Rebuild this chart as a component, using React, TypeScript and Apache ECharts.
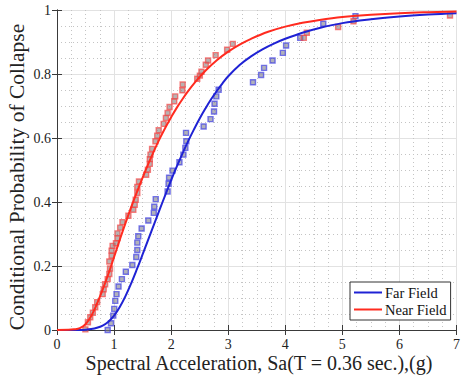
import React, { useEffect, useRef } from "react";
import * as echarts from "echarts";

// Empirical collapse fractions (square markers)
const farFieldX = [0.888,0.946,0.986,1.003,1.021,1.043,1.078,1.137,1.206,1.320,1.389,1.407,1.407,1.424,1.483,1.600,1.696,1.704,1.730,1.938,1.955,1.964,2.024,2.145,2.215,2.249,2.266,2.261,2.569,2.690,2.751,2.760,2.791,2.832,3.434,3.576,3.628,3.777,3.957,4.014,4.261,4.666,5.230];
const farFieldP = [0.000,0.021,0.045,0.066,0.091,0.112,0.136,0.159,0.182,0.203,0.228,0.250,0.273,0.293,0.317,0.342,0.366,0.385,0.409,0.433,0.457,0.476,0.498,0.524,0.548,0.569,0.590,0.616,0.636,0.659,0.683,0.707,0.730,0.751,0.774,0.797,0.819,0.842,0.866,0.889,0.913,0.957,0.981];

const nearFieldX = [0.497,0.542,0.583,0.628,0.670,0.704,0.801,0.818,0.843,0.888,0.917,0.929,0.917,0.957,0.957,0.974,1.033,1.061,1.061,1.107,1.147,1.251,1.337,1.362,1.379,1.407,1.407,1.436,1.562,1.592,1.626,1.626,1.638,1.666,1.725,1.756,1.782,1.869,1.908,1.938,1.972,2.054,2.071,2.197,2.202,2.457,2.503,2.531,2.607,2.647,2.780,2.981,3.080,4.325,4.377,4.926,5.195,6.886];
const nearFieldP = [0.002,0.024,0.040,0.054,0.071,0.087,0.112,0.127,0.143,0.159,0.175,0.192,0.214,0.232,0.248,0.263,0.271,0.287,0.302,0.320,0.337,0.357,0.376,0.391,0.407,0.428,0.447,0.464,0.485,0.501,0.519,0.534,0.548,0.566,0.590,0.607,0.624,0.644,0.663,0.678,0.697,0.715,0.730,0.749,0.767,0.785,0.795,0.807,0.829,0.842,0.859,0.876,0.894,0.913,0.929,0.947,0.965,0.983];

// Fitted fragility curves
const farCurveX = [0,0.3,0.4,0.5,0.6,0.7,0.8,0.9,1.0,1.1,1.2,1.3,1.4,1.5,1.6,1.7,1.8,1.9,2.0,2.1,2.2,2.3,2.4,2.5,2.6,2.7,2.8,2.9,3.0,3.2,3.4,3.6,3.8,4.0,4.3,4.6,5.0,5.5,6.0,6.5,7.0];
const farCurveP = [0,0,0.0002,0.001,0.003,0.007,0.014,0.026,0.045,0.072,0.106,0.146,0.190,0.236,0.283,0.330,0.377,0.423,0.468,0.511,0.552,0.591,0.627,0.661,0.692,0.721,0.747,0.771,0.793,0.828,0.855,0.877,0.895,0.910,0.929,0.944,0.959,0.971,0.980,0.986,0.990];

const nearCurveX = [0,0.2,0.3,0.4,0.5,0.6,0.7,0.8,0.9,1.0,1.1,1.2,1.3,1.4,1.5,1.6,1.7,1.8,1.9,2.0,2.1,2.2,2.3,2.4,2.6,2.8,3.0,3.2,3.4,3.7,4.0,4.3,4.6,5.0,5.5,6.0,6.5,7.0];
const nearCurveP = [0,0.0004,0.002,0.006,0.018,0.044,0.082,0.126,0.175,0.228,0.282,0.334,0.384,0.431,0.476,0.519,0.560,0.598,0.633,0.665,0.695,0.722,0.747,0.770,0.810,0.843,0.870,0.892,0.910,0.932,0.948,0.960,0.969,0.978,0.985,0.990,0.993,0.995];

const xTickLabels = ["0", "1", "2", "3", "4", "5", "6", "7"];
const yTickLabels = ["0", "0.2", "0.4", "0.6", "0.8", "1"];
const xTitle = "Spectral Acceleration, Sa(T = 0.36 sec.),(g)";
const yTitle = "Conditional Probability of Collapse";

const FONT = "Liberation Serif";
const BLUE = "#1f22d4";
const RED = "#ff2b1f";

const zip = (xs: number[], ys: number[]) => xs.map((x, i) => [x, ys[i]]);

export default function App() {
  const ref = useRef<HTMLDivElement>(null);
  useEffect(() => {
    if (!ref.current) return;
    const chart = echarts.init(ref.current, null, { renderer: "svg" });
    const frameLine = { show: true, lineStyle: { color: "#3a3a3a", width: 1 } };
    const tick = { show: true, inside: true, length: 5, lineStyle: { color: "#3a3a3a" } };
    chart.setOption({
      animation: false,
      backgroundColor: "#fff",
      textStyle: { fontFamily: FONT },
      grid: { left: 57, top: 10, width: 404, height: 320, containLabel: false },
      graphic: [
        {
          type: "text",
          x: 259,
          y: 363,
          style: {
            text: xTitle,
            fontFamily: FONT,
            fontSize: 20,
            fill: "#222",
            align: "center",
            verticalAlign: "middle",
          },
        },
        {
          type: "text",
          x: 17,
          y: 177,
          rotation: Math.PI / 2,
          style: {
            text: yTitle,
            fontFamily: FONT,
            fontSize: 21.5,
            fill: "#222",
            align: "center",
            verticalAlign: "middle",
          },
        },
      ],
      legend: {
        data: ["Far Field", "Near Field"],
        orient: "vertical",
        left: 350,
        top: 282,
        icon: "rect",
        itemWidth: 28,
        itemHeight: 2,
        itemGap: 2,
        padding: [3, 4, 3, 4],
        borderColor: "#333",
        borderWidth: 1,
        backgroundColor: "#fff",
        textStyle: { fontFamily: FONT, fontSize: 14.5, color: "#111", padding: [0, 0, 0, -2] },
      },
      xAxis: [
        {
          type: "value",
          min: 0,
          max: 7,
          interval: 1,
          position: "bottom",
          axisLine: frameLine,
          axisTick: tick,
          axisLabel: {
            margin: 7,
            fontFamily: FONT,
            fontSize: 14,
            color: "#222",
            formatter: (v: number) => xTickLabels[Math.round(v)] ?? "",
          },
          splitLine: { show: true, lineStyle: { color: "#e2e2e2", width: 1 } },
          minorTick: { show: false, splitNumber: 4 },
          minorSplitLine: { show: true, lineStyle: { color: "#c4c4c4", width: 1, type: [1, 3] } },
        },
        {
          type: "value",
          min: 0,
          max: 7,
          interval: 1,
          position: "top",
          axisLine: frameLine,
          axisTick: tick,
          axisLabel: { show: false },
          splitLine: { show: false },
        },
      ],
      yAxis: [
        {
          type: "value",
          min: 0,
          max: 1,
          interval: 0.2,
          position: "left",
          axisLine: frameLine,
          axisTick: tick,
          axisLabel: {
            margin: 6,
            fontFamily: FONT,
            fontSize: 14,
            color: "#222",
            formatter: (v: number) => yTickLabels[Math.round(v * 5)] ?? "",
          },
          splitLine: { show: true, lineStyle: { color: "#e2e2e2", width: 1 } },
          minorTick: { show: false, splitNumber: 4 },
          minorSplitLine: { show: true, lineStyle: { color: "#c4c4c4", width: 1, type: [1, 3] } },
        },
        {
          type: "value",
          min: 0,
          max: 1,
          interval: 0.2,
          position: "right",
          axisLine: frameLine,
          axisTick: tick,
          axisLabel: { show: false },
          splitLine: { show: false },
        },
      ],
      series: [
        {
          name: "Far Field data",
          type: "scatter",
          xAxisIndex: 0,
          yAxisIndex: 0,
          data: zip(farFieldX, farFieldP),
          symbol: "rect",
          symbolSize: 5,
          itemStyle: { color: "rgba(125,125,140,0.75)", borderColor: "rgba(60,60,230,0.85)", borderWidth: 1.4 },
          z: 2,
        },
        {
          name: "Near Field data",
          type: "scatter",
          xAxisIndex: 0,
          yAxisIndex: 0,
          data: zip(nearFieldX, nearFieldP),
          symbol: "rect",
          symbolSize: 5,
          itemStyle: { color: "rgba(140,125,125,0.75)", borderColor: "rgba(245,70,70,0.85)", borderWidth: 1.4 },
          z: 2,
        },
        {
          name: "Far Field",
          type: "line",
          xAxisIndex: 0,
          yAxisIndex: 0,
          data: zip(farCurveX, farCurveP),
          symbol: "none",
          smooth: 0.4,
          lineStyle: { color: BLUE, width: 2 },
          itemStyle: { color: BLUE },
          z: 3,
        },
        {
          name: "Near Field",
          type: "line",
          xAxisIndex: 0,
          yAxisIndex: 0,
          data: zip(nearCurveX, nearCurveP),
          symbol: "none",
          smooth: 0.4,
          lineStyle: { color: RED, width: 2 },
          itemStyle: { color: RED },
          z: 4,
        },
      ],
    });
    return () => chart.dispose();
  }, []);
  return (
    <div
      ref={ref}
      style={{ position: "fixed", left: 0, top: 0, width: 463, height: 379, background: "#fff" }}
    />
  );
}
